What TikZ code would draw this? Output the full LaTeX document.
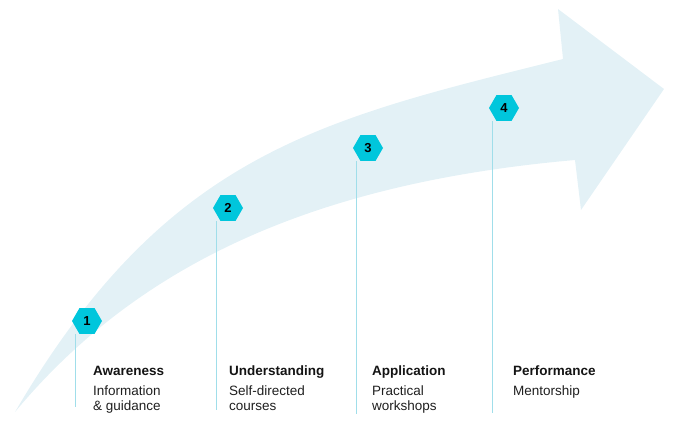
\documentclass[tikz,border=0pt]{standalone}
\usepackage{fontspec}
\setmainfont{Liberation Sans}
\usetikzlibrary{shapes.geometric,positioning}
\definecolor{bandblue}{HTML}{E3F1F6}
\definecolor{hexcyan}{HTML}{00C6DC}
\definecolor{stemblue}{HTML}{A0DEEA}

\begin{document}
\begin{tikzpicture}[x=1pt,y=-1pt,
    badge/.style={regular polygon, regular polygon sides=6, minimum size=30pt,
      inner sep=0pt, fill=hexcyan, font=\bfseries\fontsize{13}{13}\selectfont},
    stem/.style={stemblue, line width=1pt},
    heading/.style={anchor=base west, inner sep=0pt, text=black!92,
      font=\bfseries\fontsize{13.5}{15}\selectfont},
    detail/.style={anchor=north west, inner sep=0pt, align=left, text=black!88,
      font=\fontsize{13.5}{15}\selectfont}]
    \useasboundingbox (0,0) rectangle (680,432);
    % the rising arrow behind the steps
    \fill[bandblue] (15,412) .. controls (167,152) and (322,119) .. (563,59)
      -- (558,9) -- (664,89) -- (581,210) -- (575,160)
      .. controls (325,182) and (143,258) .. (15,412) -- cycle;
    \foreach \i/\hx/\hy/\tx/\bot/\title/\desc in {
        1/87/321/93/407/Awareness/{Information\\\& guidance},
        2/228/208/229/410/Understanding/{Self-directed\\courses},
        3/368/148/372/414/Application/{Practical\\workshops},
        4/504/108/513/413/Performance/{Mentorship}} {
      \node[badge] (hex\i) at (\hx,\hy) {\i};
      \coordinate (top\i) at ([xshift=-12pt]hex\i.south);
      \coordinate (foot\i) at (top\i |- 0,\bot);
      \draw[stem] (top\i) -- (foot\i);
      \node[heading] (title\i) at (\tx,375) {\title};
      \node[detail] (desc\i) at ([yshift=-11pt]title\i.base west) {\desc};
    }
  \end{tikzpicture}
\end{document}
